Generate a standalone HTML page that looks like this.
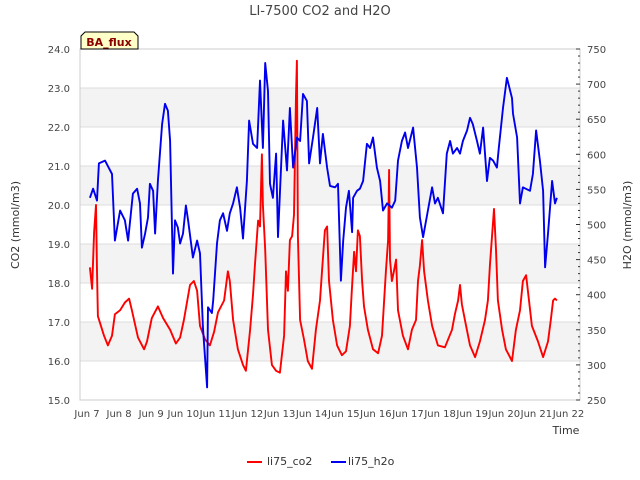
<!DOCTYPE html>
<html><head><meta charset="utf-8"><style>
body{margin:0;background:#fff;}
svg{display:block;font-family:"DejaVu Sans","Liberation Sans",sans-serif;}
</style></head><body>
<svg id="chart" width="640" height="480" xmlns="http://www.w3.org/2000/svg">
<text x="320" y="15" text-anchor="middle" font-size="13" fill="#444">LI-7500 CO2 and H2O</text>
<g id="bands"></g>
<g id="grid"></g>
<rect x="80" y="49" width="500" height="351" fill="none" stroke="#ccc"/>
<g id="axes"></g>
<path id="co2" fill="none" stroke="#ff0000" stroke-width="1.9" stroke-linejoin="round"/>
<path id="h2o" fill="none" stroke="#0000ee" stroke-width="1.9" stroke-linejoin="round"/>
<text transform="translate(19,225) rotate(-90)" text-anchor="middle" font-size="11" fill="#333">CO2 (mmol/m3)</text>
<text transform="translate(631,225) rotate(-90)" text-anchor="middle" font-size="11" fill="#333">H2O (mmol/m3)</text>
<text x="566" y="434" text-anchor="middle" font-size="11" fill="#333">Time</text>
<g>
<path d="M81,49 L81,36 L85,32 L134,32 L138,36 L138,49 Z" fill="#ffffc8" stroke="#000" stroke-width="1"/>
<text x="109" y="46" text-anchor="middle" font-size="11" font-weight="bold" fill="#8b0000">BA_flux</text>
</g>
<g>
<line x1="247" y1="462" x2="262" y2="462" stroke="#ff0000" stroke-width="2"/>
<text x="267" y="465" font-size="11" fill="#333">li75_co2</text>
<line x1="331" y1="462" x2="346" y2="462" stroke="#0000ee" stroke-width="2"/>
<text x="348" y="465" font-size="11" fill="#333">li75_h2o</text>
</g>
</svg>
<script>
const xTickLabels=["Jun 7","Jun 8","Jun 9","Jun 10","Jun 11","Jun 12","Jun 13","Jun 14","Jun 15","Jun 16","Jun 17","Jun 18","Jun 19","Jun 20","Jun 21","Jun 22"];
const leftTicks=[15,16,17,18,19,20,21,22,23,24];
const rightTicks=[250,300,350,400,450,500,550,600,650,700,750];
const co2Days=[0.09,0.16,0.22,0.28,0.31,0.34,0.53,0.65,0.78,0.87,1.03,1.18,1.31,1.40,1.59,1.78,1.87,2.02,2.21,2.37,2.59,2.77,2.90,3.02,3.21,3.33,3.43,3.52,3.68,3.83,3.96,4.08,4.27,4.39,4.45,4.55,4.70,4.86,4.95,5.08,5.17,5.23,5.33,5.39,5.45,5.48,5.55,5.64,5.76,5.89,6.01,6.14,6.20,6.26,6.32,6.39,6.45,6.51,6.54,6.57,6.64,6.76,6.88,7.01,7.13,7.26,7.32,7.41,7.48,7.54,7.66,7.79,7.94,8.07,8.19,8.25,8.32,8.38,8.44,8.50,8.57,8.63,8.75,8.91,9.07,9.19,9.31,9.38,9.41,9.44,9.50,9.56,9.63,9.69,9.84,10.0,10.12,10.25,10.31,10.37,10.44,10.50,10.62,10.75,10.93,11.15,11.37,11.46,11.56,11.62,11.68,11.81,11.93,12.09,12.24,12.40,12.49,12.55,12.68,12.74,12.80,12.93,13.05,13.24,13.36,13.49,13.58,13.68,13.77,13.86,14.05,14.21,14.36,14.45,14.52,14.58,14.64];
const co2Values=[18.4,17.85,19.3,20.0,18.3,17.15,16.65,16.4,16.65,17.2,17.3,17.5,17.6,17.3,16.6,16.3,16.5,17.1,17.4,17.1,16.8,16.45,16.6,17.05,17.95,18.05,17.8,16.9,16.55,16.4,16.75,17.25,17.55,18.3,18.05,17.05,16.3,15.9,15.75,16.8,17.7,18.45,19.6,19.45,21.3,20.0,18.85,16.8,15.9,15.75,15.7,16.65,18.3,17.8,19.1,19.2,19.75,22.8,23.7,19.2,17.05,16.55,16.0,15.8,16.8,17.55,18.3,19.35,19.45,18.05,17.05,16.4,16.15,16.25,16.9,17.8,18.8,18.3,19.35,19.2,18.05,17.4,16.8,16.3,16.2,16.65,18.3,19.1,20.9,18.6,18.05,18.3,18.6,17.3,16.65,16.3,16.8,17.05,18.05,18.45,19.1,18.3,17.55,16.9,16.4,16.35,16.8,17.2,17.55,17.95,17.45,16.9,16.4,16.1,16.5,17.05,17.55,18.45,19.9,18.85,17.55,16.8,16.3,16.0,16.8,17.3,18.05,18.2,17.55,16.9,16.5,16.1,16.5,17.05,17.55,17.6,17.55];
const h2oDays=[0.09,0.19,0.31,0.37,0.56,0.78,0.87,1.03,1.18,1.28,1.43,1.56,1.65,1.71,1.81,1.90,1.96,2.06,2.12,2.21,2.34,2.43,2.52,2.59,2.68,2.74,2.83,2.90,2.99,3.08,3.15,3.30,3.43,3.52,3.61,3.74,3.77,3.89,3.93,4.05,4.14,4.24,4.36,4.45,4.55,4.67,4.77,4.86,4.98,5.05,5.17,5.30,5.39,5.48,5.55,5.64,5.70,5.79,5.89,5.95,6.11,6.23,6.32,6.42,6.54,6.64,6.73,6.85,6.92,7.04,7.17,7.26,7.35,7.48,7.57,7.73,7.82,7.91,7.98,8.07,8.16,8.26,8.29,8.41,8.50,8.60,8.72,8.82,8.91,9.03,9.13,9.22,9.35,9.50,9.60,9.69,9.81,9.91,10.0,10.16,10.28,10.37,10.47,10.62,10.75,10.84,10.93,11.09,11.21,11.31,11.40,11.53,11.62,11.71,11.84,11.93,12.02,12.15,12.24,12.34,12.46,12.55,12.65,12.77,12.83,12.96,13.08,13.24,13.27,13.40,13.49,13.58,13.80,13.89,13.99,14.11,14.21,14.27,14.36,14.49,14.58,14.64];
const h2oValues=[538,551,534,587,591,572,477,520,506,477,544,551,530,467,487,510,558,548,487,562,643,672,662,619,430,506,496,473,487,527,506,453,477,459,354,268,382,374,392,473,506,516,491,516,530,553,524,480,562,648,615,609,705,609,730,690,558,538,601,482,648,577,666,581,624,619,686,676,587,624,666,587,629,581,555,553,558,420,477,524,548,489,538,548,551,562,615,609,624,581,562,520,530,524,534,591,619,631,609,638,581,510,482,520,553,530,538,516,601,619,601,609,601,619,634,652,643,619,601,638,562,595,591,581,609,666,709,680,658,624,530,553,548,572,634,591,548,439,487,562,530,538];

const NS="http://www.w3.org/2000/svg";
const X0=80,X1=580,Y0=49,Y1=400;
const xScale=d=>87+d*32.1;
const yL=v=>Y1-(v-15)/9*(Y1-Y0);
const yR=v=>Y1-(v-250)/500*(Y1-Y0);
function mk(tag,attrs,parent){const e=document.createElementNS(NS,tag);for(const k in attrs)e.setAttribute(k,attrs[k]);parent.appendChild(e);return e;}
const bands=document.getElementById('bands'),grid=document.getElementById('grid'),axes=document.getElementById('axes');
for(let i=0;i<leftTicks.length-1;i++){
  if(i%2===1){const r=mk('rect',{x:X0,y:yL(leftTicks[i+1]),width:X1-X0,height:yL(leftTicks[i])-yL(leftTicks[i+1]),fill:'#f3f3f3'},bands);
  
  }
}
leftTicks.forEach(v=>{
  const y=yL(v);
  const l=mk('line',{x1:X0,x2:X1,y1:y,y2:y,stroke:'#dcdcdc'},grid);
  
  
  const t=mk('text',{x:70,y:y+4,'text-anchor':'end','font-size':'10',fill:'#444'},axes);
  
  
  t.textContent=v.toFixed(1);
});
for(let v=250;v<=750;v+=10){
  const y=yR(v);const major=v%50===0;
  const l=mk('line',{x1:X1,x2:X1-(major?4:2),y1:y,y2:y,stroke:'#333'},axes);
  
  
}
rightTicks.forEach(v=>{
  const t=mk('text',{x:587,y:yR(v)+4,'font-size':'10',fill:'#444'},axes);
  
  
  t.textContent=v;
});
xTickLabels.forEach((s,i)=>{
  const x=xScale(i);
  const t=mk('text',{x:x,y:417,'text-anchor':'middle','font-size':'10',fill:'#444'},axes);
  
  
  t.textContent=s;
});
function path(days,vals,ys){return days.map((d,i)=>(i?'L':'M')+xScale(d).toFixed(1)+','+ys(vals[i]).toFixed(1)).join(' ');}
document.getElementById('co2').setAttribute('d',path(co2Days,co2Values,yL));
document.getElementById('h2o').setAttribute('d',path(h2oDays,h2oValues,yR));
</script>
</body></html>
